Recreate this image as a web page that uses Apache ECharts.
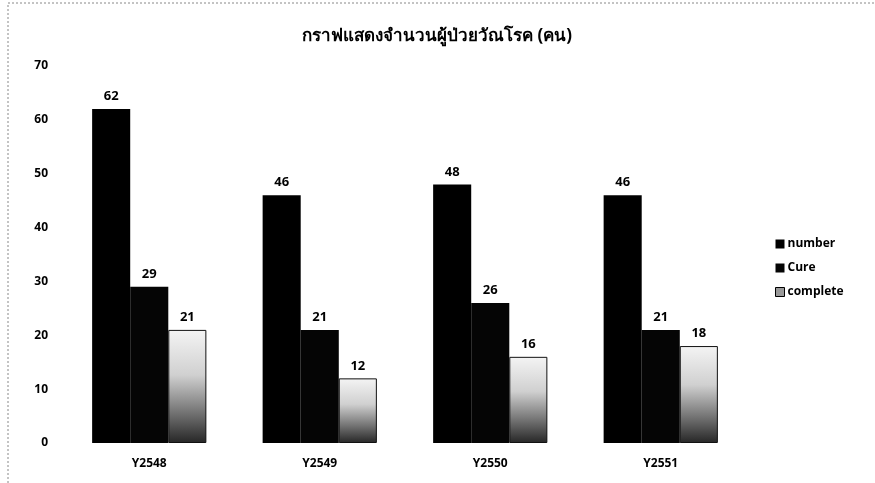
<!DOCTYPE html>
<html>
<head>
<meta charset="utf-8">
<script src="https://cdn.jsdelivr.net/npm/echarts@6/dist/echarts.min.js"></script>
<style>
  html, body { margin: 0; padding: 0; background: #fff; }
  #chart { width: 875px; height: 483px; }
</style>
</head>
<body>
<div id="chart"></div>
<script>
// Patients per year: total, cured, completed treatment
const categories = ['Y2548', 'Y2549', 'Y2550', 'Y2551'];
const numberValues = [62, 46, 48, 46];
const cureValues = [29, 21, 26, 21];
const completeValues = [21, 12, 16, 18];
const yTicks = { min: 0, max: 70, interval: 10 };

const chart = echarts.init(document.getElementById('chart'));

const labelStyle = {
  show: true,
  position: 'top',
  distance: 6,
  color: '#000',
  fontWeight: 'bold',
  fontSize: 13,
  fontFamily: 'Open Sans, sans-serif'
};

// light at the top, darkening toward the baseline
const completeFill = new echarts.graphic.LinearGradient(0, 0, 0, 1, [
  { offset: 0, color: '#f4f4f4' },
  { offset: 0.4, color: '#d0d0d0' },
  { offset: 0.75, color: '#6e6e6e' },
  { offset: 1, color: '#262626' }
]);

chart.setOption({
  animation: false,
  backgroundColor: '#fff',
  title: {
    text: 'กราฟแสดงจำนวนผู้ป่วยวัณโรค (คน)',
    left: 432,
    top: 23,
    textAlign: 'center',
    textStyle: {
      fontSize: 17,
      fontWeight: 'bold',
      color: '#000',
      fontFamily: 'Noto Sans, sans-serif'
    }
  },
  legend: {
    orient: 'vertical',
    left: 770,
    top: 233,
    itemWidth: 9,
    itemHeight: 9,
    itemGap: 12,
    icon: 'rect',
    textStyle: {
      fontSize: 12,
      color: '#000',
      fontWeight: 'bold',
      fontFamily: 'Open Sans, sans-serif',
      padding: [0, 0, 0, -2]
    },
    data: [
      { name: 'number' },
      { name: 'Cure' },
      { name: 'complete', itemStyle: { color: '#999', borderColor: '#000', borderWidth: 1 } }
    ]
  },
  grid: {
    left: 64,
    right: 129,
    top: 66,
    bottom: 40,
    containLabel: false
  },
  xAxis: {
    type: 'category',
    data: categories,
    axisLine: { show: false },
    axisTick: { show: false },
    axisLabel: {
      margin: 15,
      color: '#000',
      fontSize: 12,
      fontWeight: 'bold',
      fontFamily: 'Open Sans, sans-serif'
    }
  },
  yAxis: {
    type: 'value',
    min: yTicks.min,
    max: yTicks.max,
    interval: yTicks.interval,
    axisLine: { show: false },
    axisTick: { show: false },
    splitLine: { show: false },
    axisLabel: {
      margin: 16,
      color: '#000',
      fontSize: 12,
      fontWeight: 'bold',
      fontFamily: 'Open Sans, sans-serif'
    }
  },
  series: [
    {
      name: 'number',
      type: 'bar',
      data: numberValues,
      barGap: '0%',
      barCategoryGap: '33%',
      itemStyle: { color: '#000' },
      label: labelStyle
    },
    {
      name: 'Cure',
      type: 'bar',
      data: cureValues,
      barGap: '0%',
      barCategoryGap: '33%',
      itemStyle: { color: '#050505' },
      label: labelStyle
    },
    {
      name: 'complete',
      type: 'bar',
      data: completeValues,
      barGap: '0%',
      barCategoryGap: '33%',
      itemStyle: { color: completeFill, borderColor: '#111', borderWidth: 1 },
      label: labelStyle
    }
  ],
  graphic: [
    {
      type: 'rect',
      shape: { x: 8, y: 3, width: 880, height: 500 },
      style: { fill: 'none', stroke: '#888', lineWidth: 1, lineDash: [2, 2] },
      silent: true
    }
  ]
});
</script>
</body>
</html>
